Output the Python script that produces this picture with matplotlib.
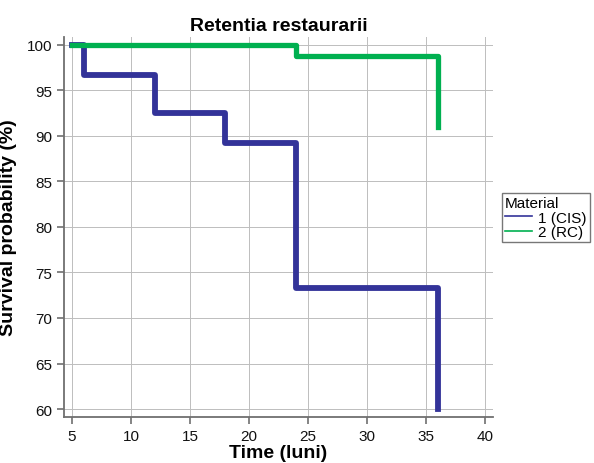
import matplotlib
matplotlib.use("Agg")
import matplotlib.pyplot as plt

plt.rcParams['font.family'] = ['Liberation Sans', 'DejaVu Sans']

# Kaplan-Meier steps
time_cis = [5, 6, 12, 18, 24, 36]
surv_cis = [100, 96.7, 92.5, 89.2, 73.3, 60]
time_rc = [5, 24, 36]
surv_rc = [100, 98.8, 91]
labels = ['1 (CIS)', '2 (RC)']

fig = plt.figure(figsize=(5.94, 4.64), dpi=100)
ax = fig.add_axes([0.1077, 0.099, 0.7223, 0.819])

ax.step(time_cis, surv_cis, where='post', color='#333399', lw=4.2,
        label=labels[0], solid_joinstyle='round', zorder=3)
ax.step(time_rc, surv_rc, where='post', color='#00b050', lw=3.8,
        label=labels[1], solid_joinstyle='round', zorder=4)

ax.set_xlim(4.32, 40.68)
ax.set_ylim(59.12, 100.85)
ax.set_xticks([5, 10, 15, 20, 25, 30, 35, 40])
ax.set_yticks([60, 65, 70, 75, 80, 85, 90, 95, 100])
ax.grid(True, color='#bdbdbd', lw=0.7)
ax.set_axisbelow(True)

for s in ['top', 'right']:
    ax.spines[s].set_visible(False)
for s in ['left', 'bottom']:
    ax.spines[s].set_color('#707070')
    ax.spines[s].set_linewidth(1.3)
ax.tick_params(colors='#707070', labelcolor='#111111', labelsize=11,
               length=5, width=1.2)

ax.set_title('Retentia restaurarii', fontsize=14, fontweight='bold', pad=5)
ax.set_xlabel('Time (luni)', fontsize=14, fontweight='bold', labelpad=1)
ax.set_ylabel('Survival probability (%)', fontsize=14, fontweight='bold', labelpad=7)

leg = ax.legend(title='Material', loc='upper left', bbox_to_anchor=(1.02, 0.59),
                fontsize=11, title_fontsize=11, frameon=True, fancybox=False,
                edgecolor='#555555', borderpad=0.2, handlelength=1.8,
                handletextpad=0.4, labelspacing=0.05, borderaxespad=0)
leg._legend_box.align = 'left'
leg.get_frame().set_linewidth(1.0)
for h in leg.get_lines():
    h.set_linewidth(1.2)

fig.savefig('out.png', dpi=100)
